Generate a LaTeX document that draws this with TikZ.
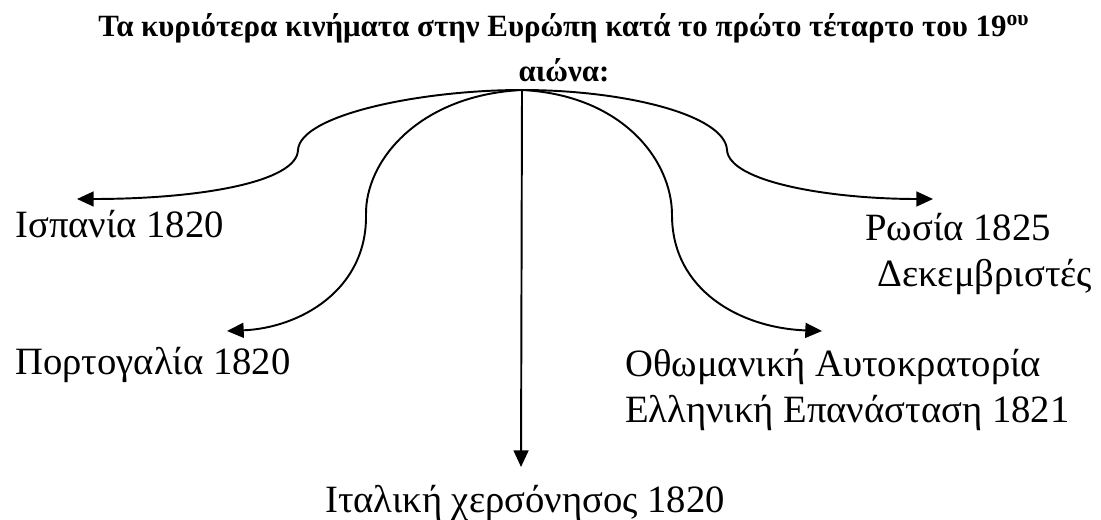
\documentclass[tikz,border=0pt]{standalone}
\usepackage{fontspec}
\setmainfont{Liberation Serif}
\usetikzlibrary{positioning,arrows.meta}
\tikzset{
  lbl/.style={inner sep=0pt,font=\fontsize{22}{26}\selectfont,align=left},
  ttl/.style={inner sep=0pt,font=\fontsize{17.6}{25.5}\selectfont\bfseries,align=center},
  arr/.style={-{Triangle[length=9.5pt,width=8.5pt]},line width=1.1pt}
}

\begin{document}
\begin{tikzpicture}[x=0.02cm,y=-0.02cm]
\useasboundingbox (0,0) rectangle (1101,520);
\node[ttl,anchor=north] (title) at (564,13) {Τα κυριότερα κινήματα στην Ευρώπη κατά το πρώτο τέταρτο του 19\textsuperscript{ου}\\αιώνα:};
\coordinate (hub) at (522,90);

\node[lbl,anchor=base west] (spain) at (15,237) {Ισπανία 1820};
\node[lbl,anchor=base west] (portugal) at (15,374) {Πορτογαλία 1820};
\node[lbl,anchor=base] (italy) at (525,512) {Ιταλική χερσόνησος 1820};
\node[lbl,anchor=north west] (russia) at (865,213) {Ρωσία 1825\\\hspace*{6.8pt}Δεκεμβριστές};
\node[lbl,anchor=north west] (ottoman) at (625,349) {Οθωμανική Αυτοκρατορία\\Ελληνική Επανάσταση 1821};

\coordinate (spainTip) at (77,199);
\coordinate (portugalTip) at (227,331);
\coordinate (italyTip) at (521,467);
\coordinate (russiaTip) at (933,199);
\coordinate (ottomanTip) at (822,331);

\draw[arr] (hub) .. controls (420,90) and (300,115) .. (298,150) .. controls (297,182) and (200,199) .. (spainTip);
\draw[arr] (hub) .. controls (420,95) and (365,160) .. (366,215) .. controls (367,290) and (300,328) .. (portugalTip);
\draw[arr] (hub) -- (italyTip);
\draw[arr] (hub) .. controls (625,90) and (725,115) .. (727,150) .. controls (729,182) and (830,199) .. (russiaTip);
\draw[arr] (hub) .. controls (622,95) and (672,160) .. (672,215) .. controls (672,290) and (740,328) .. (ottomanTip);
\end{tikzpicture}
\end{document}
